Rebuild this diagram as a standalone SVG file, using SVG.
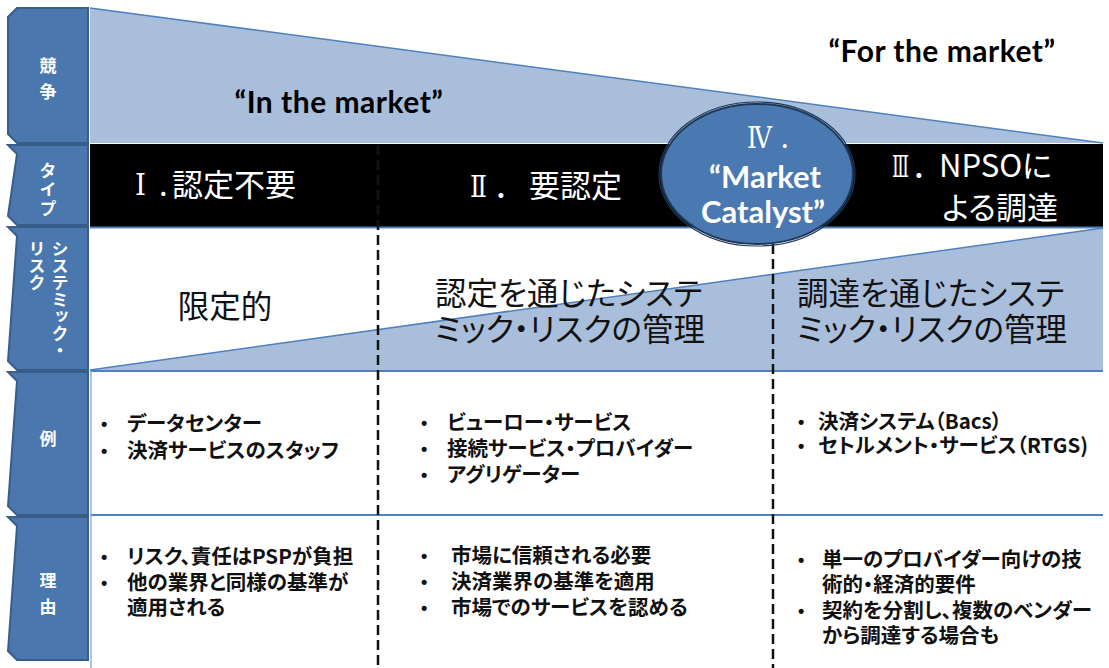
<svg xmlns="http://www.w3.org/2000/svg" width="1109" height="668" viewBox="0 0 1109 668">
<style>
.tab{fill:#4a77ae;stroke:#395d8a;stroke-width:2}
.tabt{font-family:"Noto Sans CJK JP",sans-serif;font-size:17px;font-weight:bold;fill:#fff;text-anchor:middle}
.en{font-family:Lato,"Open Sans",sans-serif;font-weight:bold;fill:#000;letter-spacing:0.5px}
.band{font-family:"Noto Sans CJK JP",sans-serif;font-size:31px;fill:#fff;font-feature-settings:"palt"}
.rn{font-family:"DejaVu Serif","Noto Sans CJK JP",serif;font-size:30px;fill:#fff}
.sr{font-family:"Noto Sans CJK JP",sans-serif;font-size:31.5px;fill:#111;font-feature-settings:"palt"}
.b{font-family:"Noto Sans CJK JP",sans-serif;font-size:20.5px;font-weight:bold;fill:#111;font-feature-settings:"palt"}
.d{font-family:"Liberation Sans",sans-serif;font-size:18px;font-weight:bold;fill:#111}
.dash{stroke:#111;stroke-width:2.5;stroke-dasharray:10 5;fill:none}
.bl{stroke:#4f81bd;stroke-width:2;fill:none}
</style>
<rect width="1109" height="668" fill="#fff"/>
<g id="bg">
<polygon points="90,8 1103,143 90,143" fill="#a9bedb" stroke="none"/>
<line x1="90" y1="8" x2="1103" y2="143" stroke="#4f81bd" stroke-width="1.5"/>
<rect x="90" y="144" width="1013" height="83" fill="#000"/>
<polygon points="90,370 1103,228 1103,370" fill="#a9bedb"/>
<line x1="90" y1="370" x2="1103" y2="228" stroke="#4f81bd" stroke-width="1.5"/>
<line class="bl" x1="90" y1="227.5" x2="1103" y2="227.5" stroke-width="1.5"/>
<line class="bl" x1="90" y1="371" x2="1103" y2="371"/>
<line class="bl" x1="90" y1="515" x2="1103" y2="515"/>
<line x1="91" y1="371" x2="91" y2="668" stroke-width="1.5" stroke="#8fb0d8"/>
</g>
<g id="tab-kyoso">
<polygon class="tab" points="17,8 88,8 88,143 17,143 8,134 8,17"/>
<text class="tabt" x="48" y="72">競</text>
<text class="tabt" x="48" y="98">争</text>
</g>
<g id="tab-type">
<polygon class="tab" points="8,145 88,145 88,225 17,225 8,216 17,154"/>
<text class="tabt" x="48" y="162" writing-mode="vertical-rl" style="text-anchor:start;letter-spacing:2px">タイプ</text>
</g>
<g id="tab-risk">
<polygon class="tab" points="8,227 88,227 88,370 17,370 8,361 17,236"/>
<text class="tabt" x="60" y="240" writing-mode="vertical-rl" style="text-anchor:start">システミック・</text>
<text class="tabt" x="37" y="240" writing-mode="vertical-rl" style="text-anchor:start">リスク</text>
</g>
<g id="tab-rei">
<polygon class="tab" points="8,372 88,372 88,515 17,515 8,506 17,381"/>
<text class="tabt" x="48" y="445">例</text>
</g>
<g id="tab-riyu">
<polygon class="tab" points="8,517 88,517 88,660 17,660 8,651 17,526"/>
<text class="tabt" x="48" y="587">理</text>
<text class="tabt" x="48" y="613">由</text>
</g>
<g id="dividers">
<line class="dash" x1="378" y1="145" x2="378" y2="668"/>
<line class="dash" x1="378" y1="145" x2="378" y2="227" stroke="#fff"/>
<line class="dash" x1="773" y1="244" x2="773" y2="668"/>
</g>
<g id="in-market"><text class="en" x="339" y="113" font-size="30" text-anchor="middle">“In the market”</text></g>
<g id="for-market"><text class="en" x="942" y="62" font-size="30" text-anchor="middle">“For the market”</text></g>
<g id="type1">
<text class="rn" x="135" y="195" textLength="11" lengthAdjust="spacingAndGlyphs">Ⅰ</text>
<text class="band" x="159" y="196">.</text>
<text class="band" x="172" y="196" font-size="32">認定不要</text>
</g>
<g id="type2">
<text class="rn" x="470" y="197" textLength="17" lengthAdjust="spacingAndGlyphs">Ⅱ</text>
<text class="band" x="496" y="197">．</text>
<text class="band" x="529" y="197">要認定</text>
</g>
<g id="type3">
<text class="rn" x="892" y="177" font-size="28" textLength="17" lengthAdjust="spacingAndGlyphs">Ⅲ</text>
<text class="band" x="914" y="177" font-size="29">．</text>
<text class="band" x="939" y="177" font-size="29">NPSOに</text>
<text class="band" x="942" y="219" font-size="30">よる調達</text>
</g>
<g id="catalyst">
<ellipse cx="757" cy="174" rx="98" ry="72" fill="none" stroke="#1f3858" stroke-width="1.2"/>
<ellipse cx="757" cy="174" rx="96" ry="70" fill="#4a78b0" stroke="#1f3858" stroke-width="2"/>
<text class="rn" x="747" y="148" font-size="28" textLength="25" lengthAdjust="spacingAndGlyphs">Ⅳ</text>
<text class="rn" x="780" y="148" font-size="28">.</text>
<text class="en" x="765" y="188" font-size="31" style="fill:#fff;letter-spacing:0" text-anchor="middle">“Market</text>
<text class="en" x="763" y="223" font-size="31" style="fill:#fff;letter-spacing:0" text-anchor="middle">Catalyst”</text>
</g>
<g id="risk1"><text class="sr" x="225" y="318" text-anchor="middle">限定的</text></g>
<g id="risk2"><text class="sr" x="435" y="305">認定を通じたシステ</text><text class="sr" x="435" y="341">ミック・リスクの管理</text></g>
<g id="risk3"><text class="sr" x="797" y="305">調達を通じたシステ</text><text class="sr" x="797" y="341">ミック・リスクの管理</text></g>
<g id="ex1">
<text class="d" x="101" y="430">•</text><text class="b" x="127" y="431">データセンター</text>
<text class="d" x="101" y="457">•</text><text class="b" x="127" y="458">決済サービスのスタッフ</text>
</g>
<g id="ex2">
<text class="d" x="421" y="429">•</text><text class="b" x="447" y="430">ビューロー・サービス</text>
<text class="d" x="421" y="455">•</text><text class="b" x="447" y="456">接続サービス・プロバイダー</text>
<text class="d" x="421" y="481">•</text><text class="b" x="447" y="482">アグリゲーター</text>
</g>
<g id="ex3">
<text class="d" x="798" y="428">•</text><text class="b" x="818" y="429">決済システム（Bacs）</text>
<text class="d" x="798" y="452">•</text><text class="b" x="818" y="453">セトルメント・サービス（RTGS)</text>
</g>
<g id="rs1">
<text class="d" x="101" y="563">•</text><text class="b" x="127" y="564">リスク、責任はPSPが負担</text>
<text class="d" x="101" y="589">•</text><text class="b" x="127" y="590">他の業界と同様の基準が</text>
<text class="b" x="127" y="615">適用される</text>
</g>
<g id="rs2">
<text class="d" x="421" y="562">•</text><text class="b" x="451" y="563">市場に信頼される必要</text>
<text class="d" x="421" y="588">•</text><text class="b" x="451" y="589">決済業界の基準を適用</text>
<text class="d" x="421" y="614">•</text><text class="b" x="451" y="615">市場でのサービスを認める</text>
</g>
<g id="rs3">
<text class="d" x="798" y="566">•</text><text class="b" x="822" y="567">単一のプロバイダー向けの技</text>
<text class="b" x="822" y="592">術的・経済的要件</text>
<text class="d" x="798" y="617">•</text><text class="b" x="822" y="618">契約を分割し、複数のベンダー</text>
<text class="b" x="822" y="643">から調達する場合も</text>
</g>
</svg>
